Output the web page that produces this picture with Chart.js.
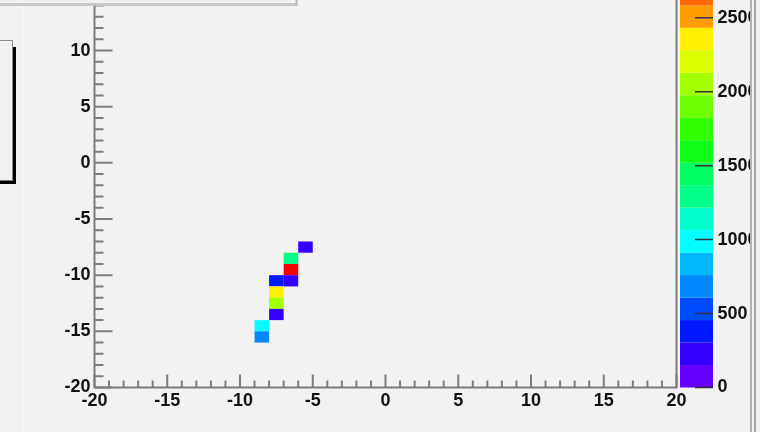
<!DOCTYPE html>
<html>
<head>
<meta charset="utf-8">
<script src="https://cdn.jsdelivr.net/npm/chart.js@4.4.1/dist/chart.umd.min.js"></script>
<style>
  html, body { margin: 0; padding: 0; background: #f2f2f2; }
  canvas { display: block; }
</style>
</head>
<body>
<canvas id="c" width="760" height="432"></canvas>
<script>
// Filled bins of the 2D histogram (1x1 bins, lower-left bin edges)
const binXLow = [-6, -7, -7, -8, -7, -8, -8, -8, -9, -9];
const binYLow = [-8, -9, -10, -11, -11, -12, -13, -14, -15, -16];
const binCounts = [240, 1280, 2950, 380, 220, 2300, 2050, 260, 980, 680];
const binWidth = 1;

// Axis ticks
const xTickValues = [-20, -15, -10, -5, 0, 5, 10, 15, 20];
const yTickValues = [-20, -15, -10, -5, 0, 5, 10];
const zTickValues = [0, 500, 1000, 1500, 2000, 2500];

// Colour contours of the z axis
const zContourStep = 152;
const palette = [
  '#6600ff', '#3300ff', '#0018ff', '#004cff', '#0088ff',
  '#00b8ff', '#00ffff', '#00ffcc', '#00ff88', '#00ff60',
  '#10ff18', '#30ff00', '#6cff00', '#a4ff00', '#dcff00',
  '#fff000', '#ff9c00', '#ff6a00', '#ff3300', '#ff0000'
];

const BG = '#f2f2f2';
const tickFont = { family: 'Liberation Sans, Arial, sans-serif', weight: 'bold', size: 18 };

function colorFor(v) {
  const i = Math.min(palette.length - 1, Math.max(0, Math.floor(v / zContourStep)));
  return palette[i];
}

const cellData = binCounts.map((v, i) => ({ x: binXLow[i] + binWidth / 2, y: binYLow[i] + binWidth / 2, v }));

// Fixed scale footprints so the frame sits where the pad expects it
function fixSize(prop, size) {
  return s => {
    s[prop] = size;
    s.paddingTop = 0; s.paddingBottom = 0; s.paddingLeft = 0; s.paddingRight = 0;
  };
}

const background = {
  id: 'background',
  beforeDraw(chart) {
    const ctx = chart.ctx;
    ctx.save();
    ctx.fillStyle = BG;
    ctx.fillRect(0, 0, chart.width, chart.height);
    ctx.restore();
  }
};

// Draws the histogram cells through the x/y scales
const cells = {
  id: 'cells',
  afterDatasetsDraw(chart) {
    const { ctx, scales: { x, y } } = chart;
    const ds = chart.data.datasets[0].data;
    ctx.save();
    ds.forEach(p => {
      const x0 = x.getPixelForValue(p.x - binWidth / 2);
      const x1 = x.getPixelForValue(p.x + binWidth / 2);
      const y0 = y.getPixelForValue(p.y + binWidth / 2);
      const y1 = y.getPixelForValue(p.y - binWidth / 2);
      ctx.fillStyle = colorFor(p.v);
      ctx.fillRect(x0, y0, x1 - x0, y1 - y0);
    });
    ctx.restore();
  }
};

// Frame, inner tick marks, colour bar and pad decorations
const frame = {
  id: 'frame',
  afterDraw(chart) {
    const { ctx, chartArea: a, scales: { x, y, z } } = chart;
    ctx.save();
    ctx.strokeStyle = '#7c7c7c';
    ctx.lineWidth = 2;
    // axes and frame
    ctx.beginPath();
    ctx.moveTo(a.left, a.top); ctx.lineTo(a.left, a.bottom);
    ctx.lineTo(a.right, a.bottom); ctx.lineTo(a.right, a.top);
    ctx.stroke();
    // x ticks
    ctx.beginPath();
    for (let v = x.min; v <= x.max; v++) {
      const px = x.getPixelForValue(v);
      const len = (v % 5 === 0) ? 13 : 7;
      ctx.moveTo(px, a.bottom); ctx.lineTo(px, a.bottom - len);
    }
    // y ticks
    for (let v = y.min; v <= Math.floor(y.max); v++) {
      const py = y.getPixelForValue(v);
      const len = (v % 5 === 0) ? 18 : 9;
      ctx.moveTo(a.left, py); ctx.lineTo(a.left + len, py);
    }
    ctx.stroke();

    // colour bar
    const barL = 680, barR = 713;
    for (let i = 0; i < palette.length; i++) {
      const y0 = z.getPixelForValue(i * zContourStep);
      const y1 = z.getPixelForValue((i + 1) * zContourStep);
      ctx.fillStyle = palette[i];
      ctx.fillRect(barL, y1, barR - barL, y0 - y1);
    }
    ctx.strokeStyle = '#333';
    ctx.lineWidth = 1.5;
    ctx.beginPath();
    zTickValues.forEach(v => {
      const py = z.getPixelForValue(v);
      ctx.moveTo(barR - 18, py); ctx.lineTo(barR, py);
    });
    ctx.stroke();

    // right pad edge
    ctx.fillStyle = BG;
    ctx.fillRect(750, 0, 10, chart.height);
    ctx.lineWidth = 2;
    ctx.strokeStyle = '#b2b2b2';
    ctx.beginPath(); ctx.moveTo(751, 0); ctx.lineTo(751, chart.height); ctx.stroke();
    ctx.strokeStyle = '#a6a6a6';
    ctx.beginPath(); ctx.moveTo(755, 0); ctx.lineTo(755, chart.height); ctx.stroke();

    // faint pad line on the left
    ctx.strokeStyle = '#f8f8f8';
    ctx.lineWidth = 1;
    ctx.beginPath(); ctx.moveTo(23.5, 0); ctx.lineTo(23.5, chart.height); ctx.stroke();

    // title box edge at the top
    ctx.fillStyle = BG;
    ctx.fillRect(0, 0, 298, 6);
    ctx.strokeStyle = '#c8c8c8';
    ctx.lineWidth = 3;
    ctx.beginPath(); ctx.moveTo(0, 4.5); ctx.lineTo(297, 4.5); ctx.stroke();
    ctx.lineWidth = 2;
    ctx.strokeStyle = '#b8b8b8';
    ctx.beginPath(); ctx.moveTo(296.5, 0); ctx.lineTo(296.5, 6); ctx.stroke();

    // legend box with shadow on the left
    ctx.fillStyle = '#000';
    ctx.fillRect(13, 47, 3, 137);
    ctx.fillRect(0, 180.5, 16, 3.5);
    ctx.strokeStyle = '#8a8a8a';
    ctx.lineWidth = 1;
    ctx.beginPath();
    ctx.moveTo(0, 40.5); ctx.lineTo(12.5, 40.5); ctx.lineTo(12.5, 181);
    ctx.stroke();
    ctx.restore();
  }
};

const plainLabel = v => String(v);

new Chart(document.getElementById('c'), {
  type: 'scatter',
  data: {
    datasets: [{ data: cellData, pointRadius: 0, pointHoverRadius: 0 }]
  },
  options: {
    responsive: false,
    animation: false,
    events: [],
    layout: { padding: 0 },
    plugins: { legend: { display: false }, tooltip: { enabled: false } },
    scales: {
      x: {
        type: 'linear', position: 'bottom', min: -20, max: 20,
        grid: { display: false, drawTicks: false }, border: { display: false },
        afterBuildTicks: s => { s.ticks = xTickValues.map(v => ({ value: v })); },
        afterFit: fixSize('height', 44.5),
        ticks: { font: tickFont, color: '#111', padding: 3, maxRotation: 0, autoSkip: false, callback: plainLabel }
      },
      y: {
        type: 'linear', position: 'left', min: -20, max: 14.5,
        grid: { display: false, drawTicks: false }, border: { display: false },
        afterBuildTicks: s => { s.ticks = yTickValues.map(v => ({ value: v })); },
        afterFit: fixSize('width', 94.5),
        ticks: { font: tickFont, color: '#111', padding: 4, autoSkip: false, callback: plainLabel }
      },
      z: {
        axis: 'y', type: 'linear', position: 'right', min: 0, max: 2620,
        grid: { display: false, drawTicks: false }, border: { display: false },
        afterBuildTicks: s => { s.ticks = zTickValues.map(v => ({ value: v })); },
        afterFit: fixSize('width', 83.5),
        ticks: { font: tickFont, color: '#111', padding: 41, autoSkip: false, callback: plainLabel }
      }
    }
  },
  plugins: [background, cells, frame]
});
</script>
</body>
</html>
